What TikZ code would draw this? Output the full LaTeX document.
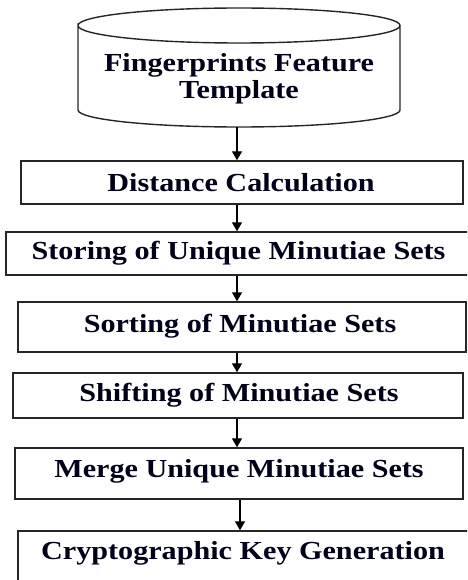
\documentclass[tikz,border=0pt]{standalone}
\usepackage{fontspec}
\usepackage{graphicx}
\setmainfont{Liberation Serif}
\usetikzlibrary{arrows.meta}
\newcommand{\wt}[1]{\scalebox{1.16}[1]{#1}}
\begin{document}
\begin{tikzpicture}[x=1pt,y=-1pt,
  box/.style={draw=black!85, line width=1.4pt, rectangle, inner sep=0pt},
  lbl/.style={font=\fontsize{26}{27}\selectfont\bfseries, text=black!90!blue, align=center, inner sep=0pt},
  arr/.style={line width=1.3pt, -{Triangle[length=9pt,width=10pt]}}]
\useasboundingbox (0,0) rectangle (467,580);
\begin{scope}
\clip (0,0) rectangle (467,580);
% cylinder
\node[inner sep=0pt, minimum width=322pt, minimum height=119pt] (cyl) at (239,67.5) {};
\draw[line width=1.4pt, black!85] (78,25.5) arc[start angle=180, end angle=360, x radius=161, y radius=17.5]
  arc[start angle=0, end angle=180, x radius=161, y radius=17.5] -- (78,110)
  arc[start angle=180, end angle=0, x radius=161, y radius=17] -- (400,25.5);
\node[lbl] (cylt) at (239,79) {\wt{Fingerprints Feature}\\\wt{Template}};
\coordinate (ax) at (237,0);
\node[box, minimum width=442pt, minimum height=43pt] (k1) at (242,182.5) {};
\node[lbl] (k1t) at (241,182.5) {\wt{Distance Calculation}};
\node[box, minimum width=464pt, minimum height=43pt] (k2) at (238,253.5) {};
\node[lbl] (k2t) at (238.5,253.5) {\wt{Storing of Unique Minutiae Sets}};
\node[box, minimum width=448pt, minimum height=50pt] (k3) at (242,327) {};
\node[lbl] (k3t) at (240,326) {\wt{Sorting of Minutiae Sets}};
\node[box, minimum width=450pt, minimum height=45pt] (k4) at (238,395.5) {};
\node[lbl] (k4t) at (239,395.5) {\wt{Shifting of Minutiae Sets}};
\node[box, minimum width=448pt, minimum height=51pt] (k5) at (239,473.5) {};
\node[lbl] (k5t) at (239,471) {\wt{Merge Unique Minutiae Sets}};
\node[box, minimum width=452pt, minimum height=70pt] (k6) at (244,566) {};
\node[lbl] (k6t) at (243,553) {\wt{Cryptographic Key Generation}};
\draw[arr] (cyl.south -| ax) -- (k1.north -| ax);
\draw[arr] (k1.south -| ax) -- (k2.north -| ax);
\draw[arr] (k2.south -| ax) -- (k3.north -| ax);
\draw[arr] (k3.south -| ax) -- (k4.north -| ax);
\draw[arr] (k4.south -| ax) -- (k5.north -| ax);
\coordinate (ax6) at (240,0);
\draw[arr] (k5.south -| ax6) -- (k6.north -| ax6);
\end{scope}
\end{tikzpicture}
\end{document}
